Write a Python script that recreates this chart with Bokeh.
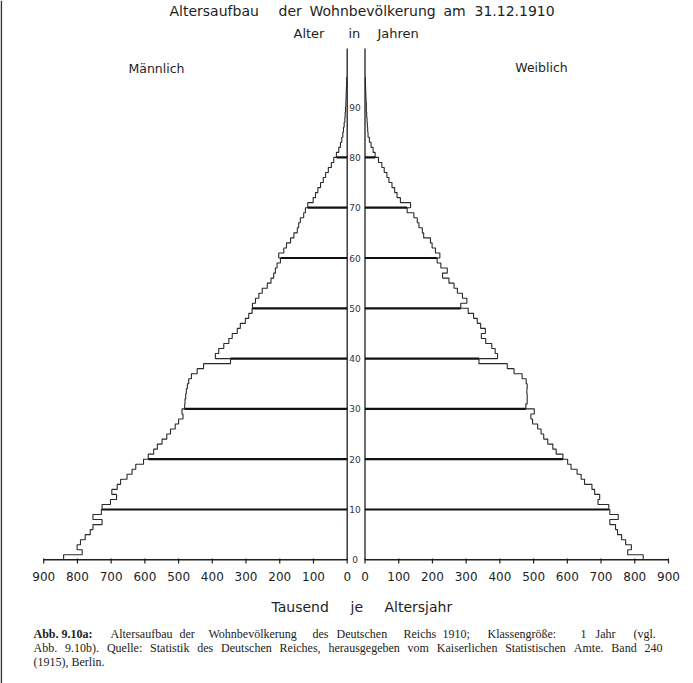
import numpy as np
from bokeh.plotting import figure
from bokeh.models import Range1d
from bokeh.core.properties import value
from bokeh.embed import file_html
from bokeh.resources import INLINE

# ---------------- data (thousands per single year of age, ages 0..95) -------------
male = [841, 786, 801, 791, 777, 762, 754, 727, 754, 729,
        727, 702, 684, 698, 682, 672, 653, 638, 627, 604,
        590, 574, 563, 549, 535, 524, 510, 500, 487, 490,
        482, 481, 479, 477, 474, 470, 462, 445, 426, 346,
        391, 381, 366, 351, 341, 326, 317, 302, 292, 282,
        281, 272, 262, 252, 237, 226, 218, 213, 208, 198,
        203, 188, 180, 168, 158, 148, 144, 139, 129, 124,
        117, 101, 94, 87, 79, 71, 64, 56, 47, 40,
        32, 25, 20, 16, 13, 11, 9, 7, 6, 5,
        4, 3.5, 3, 2.5, 2, 1.5]
female = [825, 779, 790, 773, 761, 749, 743, 726, 751, 726,
          723, 691, 696, 681, 673, 651, 641, 629, 611, 601,
          587, 567, 557, 542, 530, 522, 512, 497, 492, 502,
          477, 481, 481, 480, 481, 478, 466, 442, 422, 338,
          393, 386, 376, 358, 345, 357, 343, 333, 322, 306,
          284, 302, 289, 274, 264, 249, 230, 244, 225, 214,
          222, 209, 199, 194, 174, 170, 160, 155, 145, 125,
          135, 105, 95, 88, 80, 71, 65, 57, 50, 40,
          30, 24, 18, 13, 9, 8, 7, 6, 5, 4,
          4, 3, 2.5, 2, 1.5, 1]
x_ticks = [0, 100, 200, 300, 400, 500, 600, 700, 800, 900]
x_tick_labels = ["0", "100", "200", "300", "400", "500", "600", "700", "800", "900"]
age_ticks = [0, 10, 20, 30, 40, 50, 60, 70, 80, 90]
age_tick_labels = ["0", "10", "20", "30", "40", "50", "60", "70", "80", "90"]
decade_lines = [10, 20, 30, 40, 50, 60, 70, 80]

# ---------------- geometry helpers (pixel layout -> data units) ------------------
W, H = 693, 683
K = 0.3372          # px per thousand
CX = 355.6          # px of the centre of the gap
G = 26.4            # half gap (data units)
Y0, KY = 559.3, 5.03  # px of age 0, px per year


def dx(px):
    return (px - CX) / K


def dy(py):
    return (Y0 - py) / KY


p = figure(width=W, height=H, output_backend="svg", toolbar_location=None,
           x_range=Range1d(dx(0), dx(W)), y_range=Range1d(dy(H), dy(0)),
           x_axis_location=None, y_axis_location=None, min_border=0,
           background_fill_color="white", border_fill_color="white")
p.outline_line_color = None
p.xgrid.visible = False
p.ygrid.visible = False

INK = "#1e1e1e"
FONT = value("DejaVu Sans")
SERIF = value("Liberation Serif")

# ---------------- axes (vertical age axes and baselines) --------------------------
top_age = dy(48)
p.line([-G, -G], [0, top_age], line_color=INK, line_width=1.3)
p.line([G, G], [0, top_age], line_color=INK, line_width=1.3)
p.line([-G, -(G + max(x_ticks))], [0, 0], line_color=INK, line_width=1.6)
p.line([G, G + max(x_ticks)], [0, 0], line_color=INK, line_width=1.6)

# ---------------- pyramid outlines ------------------------------------------------
m = np.array(male, dtype=float)
f = np.array(female, dtype=float)
n = len(m)
ys = np.repeat(np.arange(n + 1), 2)[1:-1]
p.line(-(G + np.repeat(m, 2)), ys, line_color="#2a2a2a", line_width=1.1)
p.line(G + np.repeat(f, 2), ys, line_color="#2a2a2a", line_width=1.1)

# bold decade lines inside the bars
dl = np.array(decade_lines)
mlen = np.minimum(m[dl - 1], m[dl])
flen = np.minimum(f[dl - 1], f[dl])
p.segment(x0=np.full(len(dl), -G), y0=dl, x1=-(G + mlen), y1=dl,
          line_color="#111111", line_width=2.2)
p.segment(x0=np.full(len(dl), G), y0=dl, x1=G + flen, y1=dl,
          line_color="#111111", line_width=2.2)

# tick marks and labels
xt = np.array(x_ticks, dtype=float)
p.segment(x0=-(G + xt), y0=np.full(len(xt), dy(563)), x1=-(G + xt), y1=np.full(len(xt), dy(558)),
          line_color=INK, line_width=1.2)
p.segment(x0=G + xt, y0=np.full(len(xt), dy(563)), x1=G + xt, y1=np.full(len(xt), dy(558)),
          line_color=INK, line_width=1.2)

p.text(x=list(-(G + xt)), y=[dy(576)] * len(xt), text=x_tick_labels,
       text_font=FONT, text_font_size="12px", text_color=INK,
       text_align="center", text_baseline="middle")
p.text(x=list(G + xt), y=[dy(576)] * len(xt), text=x_tick_labels,
       text_font=FONT, text_font_size="12px", text_color=INK,
       text_align="center", text_baseline="middle")

p.text(x=[dx(354.6)] * len(age_ticks), y=age_ticks, text=age_tick_labels,
       text_font=FONT, text_font_size="9px", text_color="#333333",
       text_align="center", text_baseline="middle")

# left scan border
p.line([dx(0.8), dx(0.8)], [dy(0), dy(H)], line_color="#333333", line_width=1.6)


# ---------------- titles ----------------------------------------------------------
def words(items, py, size="12.5px", font=FONT, style="normal", color=INK, align="left"):
    p.text(x=[dx(a) for _, a in items], y=[dy(py)] * len(items), text=[t for t, _ in items],
           text_font=font, text_font_size=size, text_color=color, text_font_style=style,
           text_align=align, text_baseline="middle")


words([("Altersaufbau", 169), ("der", 278), ("Wohnbevölkerung", 309), ("am", 443),
       ("31.12.1910", 474)], 10, size="14px")
words([("Alter", 293), ("in", 348), ("Jahren", 377)], 33, size="13px")
p.text(x=[dx(156), dx(541)], y=[dy(68), dy(67)], text=["Männlich", "Weiblich"],
       text_font=FONT, text_font_size="12.5px", text_color=INK,
       text_align="center", text_baseline="middle")
words([("Tausend", 271), ("je", 350), ("Altersjahr", 384)], 606, size="14px")

# ---------------- caption (justified word by word) --------------------------------
CAP = "#222222"
words([("Abb. 9.10a:", 33)], 633, size="12px", font=SERIF, style="bold", color=CAP)
words([("Altersaufbau", 110), ("der", 179), ("Wohnbevölkerung", 208), ("des", 312),
       ("Deutschen", 336), ("Reichs", 403), ("1910;", 442), ("Klassengröße:", 487),
       ("1", 580), ("Jahr", 595), ("(vgl.", 633)], 633, size="12px", font=SERIF, color=CAP)
words([("Abb.", 33), ("9.10b).", 64.6), ("Quelle:", 106.4), ("Statistik", 149.6),
       ("des", 196.7), ("Deutschen", 220.6), ("Reiches,", 279.1), ("herausgegeben", 328),
       ("vom", 407.1), ("Kaiserlichen", 436.3), ("Statistischen", 504.7), ("Amte.", 573.3),
       ("Band", 610.8), ("240", 644)], 647, size="12px", font=SERIF, color=CAP)
words([("(1915), Berlin.", 33)], 661, size="12px", font=SERIF, color=CAP)

open("out.html", "w").write(file_html(p, INLINE))
